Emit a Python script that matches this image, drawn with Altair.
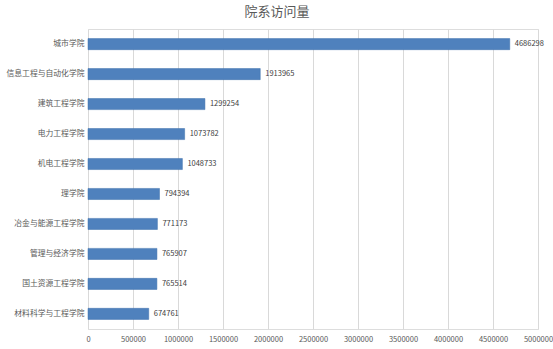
import altair as alt
import pandas as pd

colleges = ["城市学院", "信息工程与自动化学院", "建筑工程学院", "电力工程学院", "机电工程学院",
            "理学院", "冶金与能源工程学院", "管理与经济学院", "国土资源工程学院", "材料科学与工程学院"]
visits = [4686298, 1913965, 1299254, 1073782, 1048733, 794394, 771173, 765907, 765514, 674761]
x_ticks = [0, 500000, 1000000, 1500000, 2000000, 2500000, 3000000, 3500000, 4000000, 4500000, 5000000]

df = pd.DataFrame({"college": colleges, "visits": visits})
FONT = "Noto Sans CJK SC"

base = alt.Chart(df).encode(
    y=alt.Y("college:N", sort=colleges, title=None,
            scale=alt.Scale(paddingInner=0.63, paddingOuter=0.32),
            axis=alt.Axis(labelFont=FONT, labelFontSize=7.8, labelColor="#595959",
                          ticks=False, domain=False, labelPadding=4, grid=False,
                          labelLimit=200)),
    x=alt.X("visits:Q", title=None,
            scale=alt.Scale(domain=[0, 5000000], nice=False),
            axis=alt.Axis(values=x_ticks, labelFont=FONT, labelFontSize=7.5, labelColor="#595959",
                          ticks=False, domain=False, grid=True, gridColor="#d9d9d9",
                          labelPadding=6, format="d", labelFlush=False)),
)

bars = base.mark_bar(color="#4f81bd", stroke="#3f71ad", strokeWidth=0.5)
labels = base.mark_text(align="left", baseline="middle", dx=5, font=FONT, fontSize=7.5,
                        color="#404040").encode(text=alt.Text("visits:Q", format="d"))

chart = (bars + labels).properties(
    width=450, height=300,
    title=alt.TitleParams("院系访问量", font=FONT, fontSize=13, fontWeight="normal",
                          color="#595959", anchor="middle", dx=-36, offset=10),
    autosize=alt.AutoSizeParams(type="none"),
    padding={"left": 88, "top": 29, "right": 15, "bottom": 20},
).configure_view(stroke=None).configure(background="white")

chart.save("out.html", embed_options={"renderer": "svg", "actions": False})
